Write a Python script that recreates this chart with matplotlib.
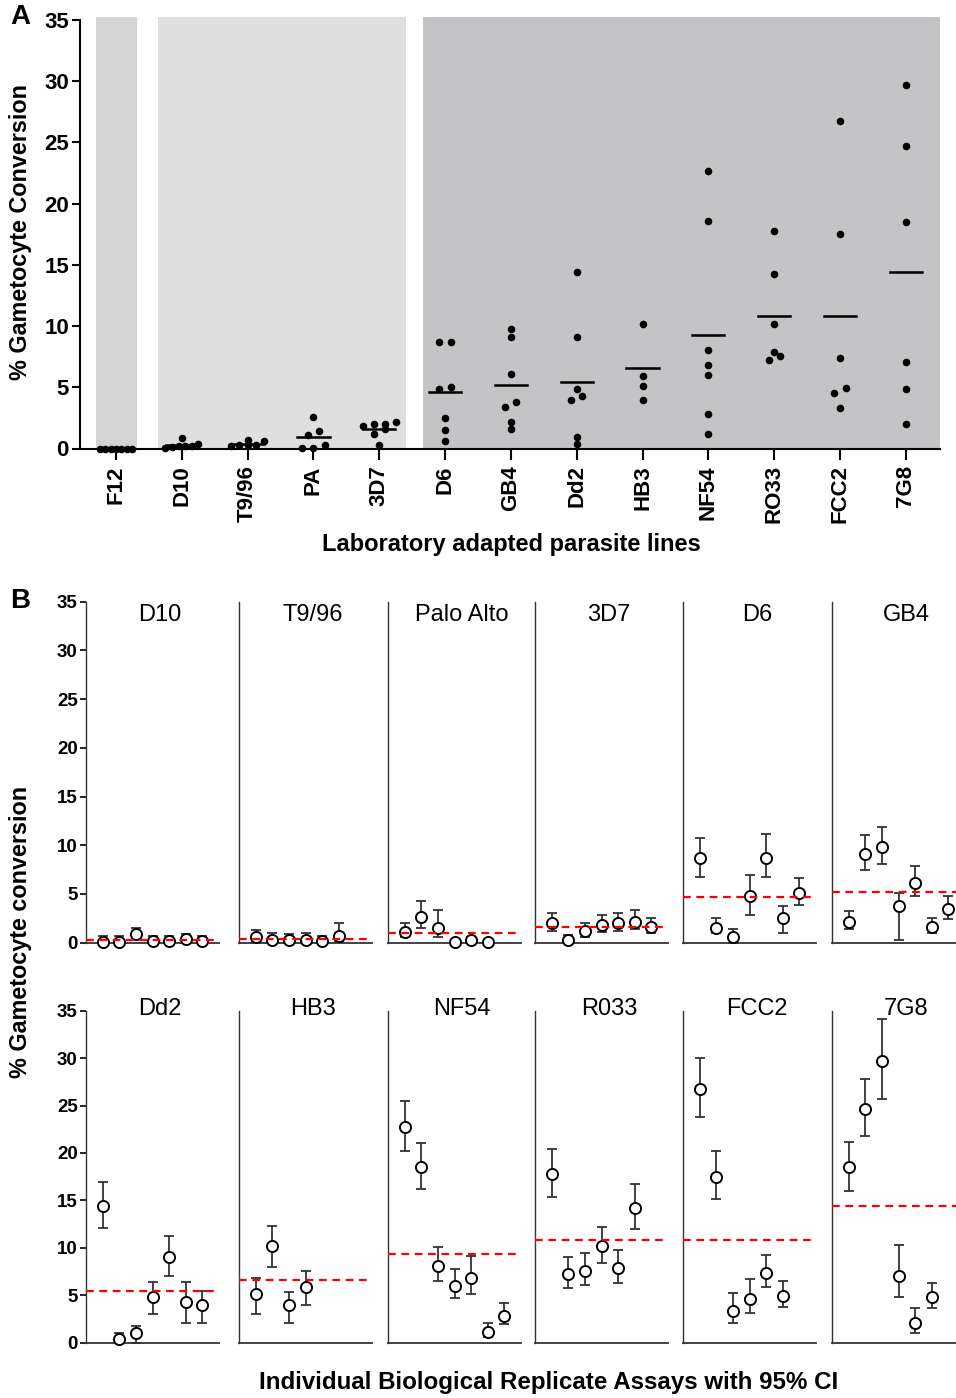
import numpy as np
import matplotlib
matplotlib.use('Agg')
import matplotlib.pyplot as plt

plt.rcParams['font.family'] = ['Liberation Sans', 'DejaVu Sans']

# panel A: laboratory adapted parasite lines
lines_a = ['F12', 'D10', 'T9/96', 'PA', '3D7', 'D6', 'GB4', 'Dd2', 'HB3', 'NF54', 'RO33', 'FCC2', '7G8']
means = [0.0, 0.25, 0.38, 0.97, 1.6, 4.65, 5.2, 5.45, 6.6, 9.3, 10.8, 10.8, 14.45]

# panel B: replicate values and 95% CI bounds
titles_b = ['D10', 'T9/96', 'Palo Alto', '3D7', 'D6', 'GB4',
            'Dd2', 'HB3', 'NF54', 'R033', 'FCC2', '7G8']

f12 = [0, 0, 0, 0, 0, 0, 0]

d10 = [0.05, 0.1, 0.85, 0.17, 0.17, 0.34, 0.17]
d10_hi = [0.72, 0.72, 1.54, 0.72, 0.72, 0.9, 0.72]
d10_lo = [0.0, 0.0, 0.4, 0.0, 0.0, 0.0, 0.0]

t996 = [0.6, 0.27, 0.27, 0.27, 0.17, 0.7]
t996_hi = [1.3, 0.96, 0.9, 1.0, 0.72, 2.0]
t996_lo = [0.1, 0.0, 0.0, 0.0, 0.0, 0.1]

pa = [1.13, 2.6, 1.47, 0.03, 0.27, 0.03]
pa_hi = [1.98, 4.3, 3.4, 0.3, 0.6, 0.3]
pa_lo = [0.62, 1.47, 0.62, 0.0, 0.0, 0.0]

l3d7 = [1.98, 0.27, 1.2, 1.81, 1.98, 2.15, 1.57]
l3d7_hi = [3.0, 0.8, 2.05, 2.84, 3.0, 3.35, 2.5]
l3d7_lo = [1.23, 0.0, 0.62, 1.13, 1.23, 1.37, 0.96]

d6 = [8.72, 1.54, 0.62, 4.82, 8.72, 2.53, 5.06]
d6_hi = [10.7, 2.5, 1.4, 6.94, 11.2, 3.76, 6.6]
d6_lo = [6.77, 0.96, 0.0, 2.84, 6.77, 0.96, 3.87]

gb4 = [2.15, 9.07, 9.78, 3.76, 6.09, 1.57, 3.42]
gb4_hi = [3.28, 11.1, 11.9, 5.13, 7.87, 2.57, 4.79]
gb4_lo = [1.37, 7.46, 8.04, 0.27, 4.79, 0.96, 2.39]

dd2 = [14.4, 0.39, 0.98, 4.85, 9.07, 4.32, 3.97]
dd2_hi = [16.9, 1.05, 1.76, 6.36, 11.24, 6.43, 5.48]
dd2_lo = [12.05, 0.0, 0.0, 3.02, 7.03, 2.04, 2.04]

hb3 = [5.13, 10.2, 3.97, 5.9]
hb3_hi = [6.78, 12.3, 5.38, 7.59]
hb3_lo = [2.99, 7.94, 2.04, 3.97]

nf54 = [22.7, 18.55, 8.08, 5.97, 6.85, 1.16, 2.85]
nf54_hi = [25.5, 21.1, 10.1, 7.77, 9.14, 2.04, 4.15]
nf54_lo = [20.2, 16.2, 6.5, 4.67, 5.1, 0.63, 1.93]

r033 = [17.78, 7.24, 7.59, 10.19, 7.9, 14.23]
r033_hi = [20.45, 9.07, 9.42, 12.23, 9.77, 16.69]
r033_lo = [15.39, 5.8, 6.08, 8.36, 6.32, 12.02]

fcc2 = [26.74, 17.5, 3.34, 4.57, 7.38, 4.95]
fcc2_hi = [29.97, 20.24, 5.27, 6.75, 9.2, 6.5]
fcc2_lo = [23.82, 15.11, 2.11, 3.09, 5.9, 3.79]

g78 = [18.48, 24.67, 29.73, 7.03, 2.04, 4.85]
g78_hi = [21.19, 27.76, 34.08, 10.26, 3.62, 6.32]
g78_lo = [16.02, 21.82, 25.72, 4.78, 1.05, 3.62]

vals_a = [f12, d10, t996, pa, l3d7, d6, gb4, dd2, hb3, nf54, r033, fcc2, g78]
vals_b = [d10, t996, pa, l3d7, d6, gb4, dd2, hb3, nf54, r033, fcc2, g78]
his_b = [d10_hi, t996_hi, pa_hi, l3d7_hi, d6_hi, gb4_hi, dd2_hi, hb3_hi, nf54_hi, r033_hi, fcc2_hi, g78_hi]
los_b = [d10_lo, t996_lo, pa_lo, l3d7_lo, d6_lo, gb4_lo, dd2_lo, hb3_lo, nf54_lo, r033_lo, fcc2_lo, g78_lo]
means_b = means[1:]

W, H = 956, 1398


def swarm(values, thresh=0.5, step=0.17, half=0.25):
    # group nearby values into rows and spread each row sideways
    v = np.asarray(values, dtype=float)
    order = np.argsort(v)
    offs = np.zeros(len(v))
    groups, cur = [], [order[0]]
    for i in order[1:]:
        if v[i] - v[cur[0]] < thresh:
            cur.append(i)
        else:
            groups.append(cur)
            cur = [i]
    groups.append(cur)
    for g in groups:
        n = len(g)
        sp = step if (n - 1) * step / 2 <= half else 2 * half / (n - 1)
        for k, i in enumerate(g):
            offs[i] = (k - (n - 1) / 2) * sp
    return offs


fig = plt.figure(figsize=(W / 100, H / 100), dpi=100)

# ---------------- panel A ----------------
x0, x1 = -0.547, 12.52
axa = fig.add_axes([80 / W, 1 - 448.5 / H, (940 - 80) / W, (448.5 - 16.7) / H])
axa.set_xlim(x0, x1)
axa.set_ylim(0, 35.27)
axa.axvspan(-0.30, 0.32, color='#d4d4d4', lw=0, zorder=0)
axa.axvspan(0.64, 4.41, color='#dfdfdf', lw=0, zorder=0)
axa.axvspan(4.67, x1, color='#c4c4c6', lw=0, zorder=0)
for i, v in enumerate(vals_a):
    xs = i + swarm(v)
    axa.scatter(xs, v, s=30, color='black', zorder=3, clip_on=False, linewidths=0)
    axa.plot([i - 0.245, i + 0.245], [means[i]] * 2, color='black', lw=1.8, zorder=3)
axa.set_xticks(range(len(lines_a)))
axa.set_xticklabels(lines_a, rotation=90, fontsize=16, fontweight='bold')
axa.set_yticks(range(0, 36, 5))
axa.set_yticklabels([str(t) for t in range(0, 36, 5)], fontsize=16, fontweight='bold')
axa.tick_params(axis='y', direction='out', length=6, width=1.5, pad=2)
axa.tick_params(axis='x', direction='out', length=8, width=1.5, pad=4)
for s in ['top', 'right']:
    axa.spines[s].set_visible(False)
axa.spines['left'].set_bounds(0, 35)
axa.spines['left'].set_linewidth(1.5)
axa.spines['bottom'].set_linewidth(1.5)
fig.text(21 / W, 1 - 232 / H, '% Gametocyte Conversion', rotation=90, ha='center', va='center',
         fontsize=16.8, fontweight='bold')
fig.text(511 / W, 1 - 545 / H, 'Laboratory adapted parasite lines', ha='center', va='center',
         fontsize=17, fontweight='bold')
fig.text(20 / W, 1 - 17 / H, 'A', ha='center', va='center', fontsize=20, fontweight='bold')
fig.text(20 / W, 1 - 601 / H, 'B', ha='center', va='center', fontsize=20, fontweight='bold')

# ---------------- panel B ----------------
col_left = [86, 239, 388, 535, 683, 832]
rows = [(942.7, 601.7, 33.6), (1342.7, 1010.7, 35.2)]
for k, name in enumerate(titles_b):
    r, c = divmod(k, 6)
    y0, y35, ty = rows[r]
    ax = fig.add_axes([col_left[c] / W, 1 - y0 / H, 133 / W, (y0 - y35) / H])
    ax.set_xlim(0, 8)
    ax.set_ylim(0, 35)
    v = np.asarray(vals_b[k])
    hi = np.asarray(his_b[k])
    lo = np.asarray(los_b[k])
    xs = np.arange(1, len(v) + 1)
    ax.errorbar(xs, v, yerr=[v - lo, hi - v], fmt='none', ecolor='#333333',
                elinewidth=1.3, capsize=3.6, capthick=1.3, zorder=2)
    ax.plot(xs, v, 'o', ms=8, mfc='white', mec='black', mew=1.4, zorder=3, clip_on=False)
    ax.plot([0, 8], [means_b[k]] * 2, color='red', lw=1.6, ls=(0, (3.5, 2.5)), zorder=4)
    ax.text(4.45, ty, name, ha='center', va='center', fontsize=17)
    for s in ['top', 'right']:
        ax.spines[s].set_visible(False)
    ax.spines['left'].set_linewidth(1.0)
    ax.spines['left'].set_color('#333333')
    ax.spines['bottom'].set_linewidth(1.3)
    ax.spines['bottom'].set_color('#333333')
    ax.set_xticks([])
    if c == 0:
        ax.set_yticks(range(0, 36, 5))
        ax.set_yticklabels([str(t) for t in range(0, 36, 5)], fontsize=13.5, fontweight='bold')
        ax.tick_params(axis='y', direction='out', length=4, width=1.2, pad=2)
    else:
        ax.set_yticks([])
    ax.patch.set_alpha(0)

fig.text(21 / W, 1 - 932 / H, '% Gametocyte conversion', rotation=90, ha='center', va='center',
         fontsize=16.8, fontweight='bold')
fig.text(549 / W, 1 - 1383 / H, 'Individual Biological Replicate Assays with 95% CI', ha='center',
         va='center', fontsize=17.4, fontweight='bold')

fig.savefig('out.png', dpi=100)
